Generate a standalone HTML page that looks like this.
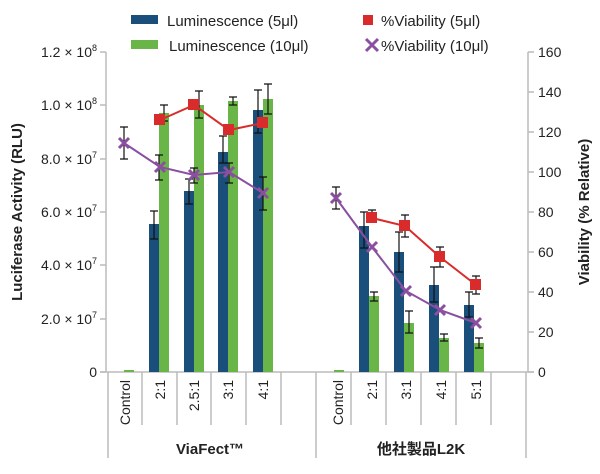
<!DOCTYPE html><html><head><style>body{margin:0;background:#fff}svg{display:block;font-family:"Liberation Sans","Noto Sans CJK JP",sans-serif}</style></head><body>
<svg width="600" height="474" viewBox="0 0 600 474">
<g stroke="#bbb" stroke-width="1.5" fill="none">
<line x1="106" y1="52" x2="106" y2="372"/><line x1="528" y1="52" x2="528" y2="372"/>
<line x1="100" y1="52" x2="106" y2="52"/><line x1="100" y1="105" x2="106" y2="105"/><line x1="100" y1="159" x2="106" y2="159"/><line x1="100" y1="212" x2="106" y2="212"/><line x1="100" y1="265" x2="106" y2="265"/><line x1="100" y1="319" x2="106" y2="319"/><line x1="100" y1="372" x2="106" y2="372"/>
<line x1="528" y1="52" x2="534" y2="52"/><line x1="528" y1="92" x2="534" y2="92"/><line x1="528" y1="132" x2="534" y2="132"/><line x1="528" y1="172" x2="534" y2="172"/><line x1="528" y1="212" x2="534" y2="212"/><line x1="528" y1="252" x2="534" y2="252"/><line x1="528" y1="292" x2="534" y2="292"/><line x1="528" y1="332" x2="534" y2="332"/><line x1="528" y1="372" x2="534" y2="372"/>
<line x1="100" y1="372" x2="534" y2="372"/>
<line x1="108" y1="372" x2="108" y2="458"/><line x1="316" y1="372" x2="316" y2="458"/><line x1="526" y1="372" x2="526" y2="458"/>
<line x1="142" y1="372" x2="142" y2="425"/><line x1="177" y1="372" x2="177" y2="425"/><line x1="211" y1="372" x2="211" y2="425"/><line x1="246" y1="372" x2="246" y2="425"/><line x1="281" y1="372" x2="281" y2="425"/>
<line x1="351" y1="372" x2="351" y2="425"/><line x1="386" y1="372" x2="386" y2="425"/><line x1="421" y1="372" x2="421" y2="425"/><line x1="456" y1="372" x2="456" y2="425"/><line x1="491" y1="372" x2="491" y2="425"/>
</g>
<g fill="#1a4f7c">
<rect x="149" y="224" width="10" height="148"/><rect x="184" y="191" width="10" height="181"/><rect x="218" y="152" width="10" height="220"/><rect x="253" y="110" width="10" height="262"/>
<rect x="359" y="226" width="10" height="146"/><rect x="394" y="252" width="10" height="120"/><rect x="429" y="285" width="10" height="87"/><rect x="464" y="305" width="10" height="67"/>
</g>
<g fill="#6ab547">
<rect x="124" y="370" width="10" height="2"/><rect x="159" y="113" width="10" height="259"/><rect x="194" y="105" width="10" height="267"/><rect x="228" y="101" width="10" height="271"/><rect x="263" y="99" width="10" height="273"/>
<rect x="334" y="370" width="10" height="2"/><rect x="369" y="296" width="10" height="76"/><rect x="404" y="323" width="10" height="49"/><rect x="439" y="338" width="10" height="34"/><rect x="474" y="343" width="10" height="29"/>
</g>
<g stroke="#111" stroke-width="1.2" fill="none">
<path d="M154 211v28M150 211h8M150 239h8M189 179v25M185 179h8M185 204h8M223 136v27M219 136h8M219 163h8M258 90v43M254 90h8M254 133h8"/>
<path d="M164 105v16M160 105h8M160 121h8M199 91v27M195 91h8M195 118h8M233 97v8M229 97h8M229 105h8M268 84v30M264 84h8M264 114h8"/>
<path d="M364 212v36M360 212h8M360 248h8M399 232v40M395 232h8M395 272h8M434 267v35M430 267h8M430 302h8M469 292v25M465 292h8M465 317h8"/>
<path d="M374 292v9M370 292h8M370 301h8M409 311v22M405 311h8M405 333h8M444 334v7M440 334h8M440 341h8M479 338v10M475 338h8M475 348h8"/>
<path d="M124 127v32M120 127h8M120 159h8M159 155v25M155 155h8M155 180h8M194 168v15M190 168h8M190 183h8M229 163v20M225 163h8M225 183h8M263 177v33M259 177h8M259 210h8"/>
<path d="M336 187v22M332 187h8M332 209h8M372 210v9M368 210h8M368 219h8M405 215v22M401 215h8M401 237h8M440 247v20M436 247h8M436 267h8M476 276v18M472 276h8M472 294h8"/>
</g>
<polyline points="160,120 194,105 229,130 263,123" stroke="#d92b2b" stroke-width="2" fill="none"/>
<polyline points="372,218 405,226 440,257 476,285" stroke="#d92b2b" stroke-width="2" fill="none"/>
<g fill="#d92b2b"><rect x="154" y="114" width="11" height="11"/><rect x="188" y="99" width="11" height="11"/><rect x="223" y="124" width="11" height="11"/><rect x="257" y="117" width="11" height="11"/><rect x="366" y="212" width="11" height="11"/><rect x="399" y="220" width="11" height="11"/><rect x="434" y="251" width="11" height="11"/><rect x="470" y="279" width="11" height="11"/></g>
<polyline points="124,143 160,167 194,175 229,172 263,193" stroke="#8a4fa0" stroke-width="2" fill="none"/>
<polyline points="336,198 372,247 406,291 440,310 476,323" stroke="#8a4fa0" stroke-width="2" fill="none"/>
<g stroke="#8a4fa0" stroke-width="3"><path d="M119 138l10 10M129 138l-10 10M155 162l10 10M165 162l-10 10M189 170l10 10M199 170l-10 10M224 167l10 10M234 167l-10 10M258 188l10 10M268 188l-10 10M331 193l10 10M341 193l-10 10M367 242l10 10M377 242l-10 10M401 286l10 10M411 286l-10 10M435 305l10 10M445 305l-10 10M471 318l10 10M481 318l-10 10"/></g>
<g font-size="15" fill="#222">
<rect x="131" y="15" width="27" height="9" fill="#1a4f7c"/><text x="167" y="26">Luminescence (5μl)</text>
<rect x="131" y="40" width="27" height="9" fill="#6ab547"/><text x="169" y="51">Luminescence (10μl)</text>
<rect x="363" y="15" width="10" height="10" fill="#d92b2b"/><text x="381" y="26">%Viability (5μl)</text>
<path d="M366 39l12 12M378 39l-12 12" stroke="#8a4fa0" stroke-width="3"/><text x="381" y="51">%Viability (10μl)</text>
</g>
<g font-size="14" fill="#222" text-anchor="end">
<text x="97" y="57">1.2 × 10<tspan font-size="9" dy="-6">8</tspan></text>
<text x="97" y="110">1.0 × 10<tspan font-size="9" dy="-6">8</tspan></text>
<text x="97" y="164">8.0 × 10<tspan font-size="9" dy="-6">7</tspan></text>
<text x="97" y="217">6.0 × 10<tspan font-size="9" dy="-6">7</tspan></text>
<text x="97" y="270">4.0 × 10<tspan font-size="9" dy="-6">7</tspan></text>
<text x="97" y="324">2.0 × 10<tspan font-size="9" dy="-6">7</tspan></text>
<text x="97" y="377">0</text>
</g>
<g font-size="14" fill="#222">
<text x="538" y="57">160</text><text x="538" y="97">140</text><text x="538" y="137">120</text><text x="538" y="177">100</text><text x="538" y="217">80</text><text x="538" y="257">60</text><text x="538" y="297">40</text><text x="538" y="337">20</text><text x="538" y="377">0</text>
</g>
<text transform="translate(22,212) rotate(-90)" font-size="15" font-weight="bold" fill="#222" text-anchor="middle">Luciferase Activity (RLU)</text>
<text transform="translate(589,212) rotate(-90)" font-size="15" font-weight="bold" fill="#222" text-anchor="middle">Viability (% Relative)</text>
<g font-size="14" fill="#222" text-anchor="end">
<text transform="translate(130,380) rotate(-90)">Control</text><text transform="translate(165,380) rotate(-90)">2:1</text><text transform="translate(199,380) rotate(-90)">2.5:1</text><text transform="translate(233,380) rotate(-90)">3:1</text><text transform="translate(268,380) rotate(-90)">4:1</text>
<text transform="translate(343,380) rotate(-90)">Control</text><text transform="translate(377,380) rotate(-90)">2:1</text><text transform="translate(411,380) rotate(-90)">3:1</text><text transform="translate(446,380) rotate(-90)">4:1</text><text transform="translate(481,380) rotate(-90)">5:1</text>
</g>
<text x="210" y="454" font-size="15" font-weight="bold" fill="#222" text-anchor="middle">ViaFect™</text>
<text x="421" y="454" font-size="15" font-weight="bold" fill="#222" text-anchor="middle">他社製品L2K</text>
</svg></body></html>
